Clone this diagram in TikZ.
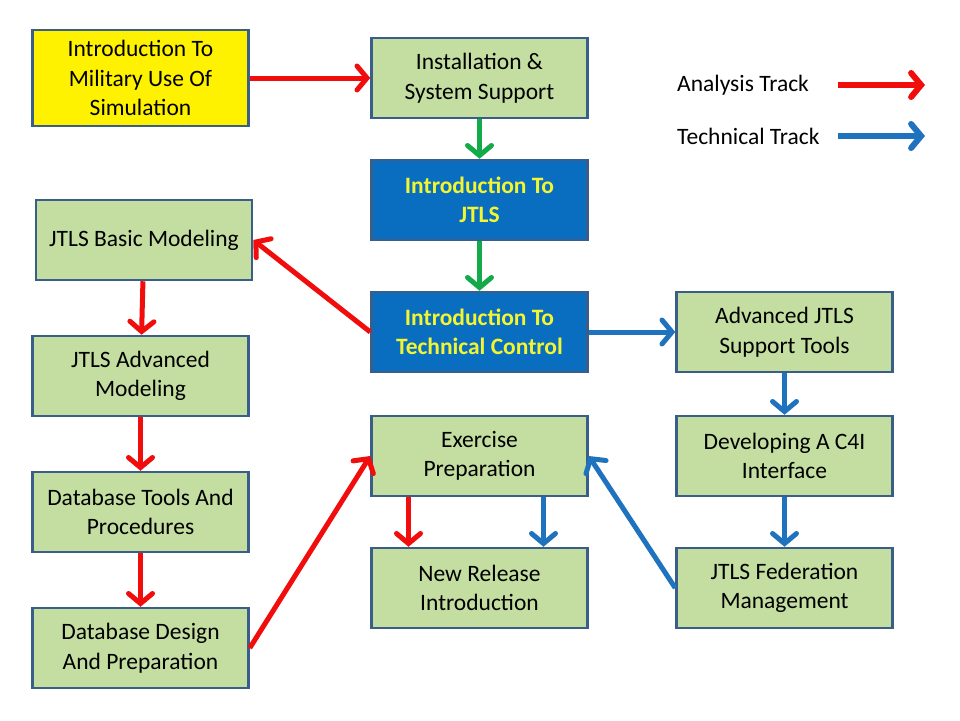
\documentclass[tikz,border=0pt]{standalone}
\usepackage{fontspec}
\setmainfont{Carlito}
\usepackage{tikz}
\usetikzlibrary{arrows.meta}
\usetikzlibrary{positioning}

\definecolor{boxgreen}{HTML}{C3DEA0}
\definecolor{boxline}{HTML}{3A5E8A}
\definecolor{boxblue}{HTML}{0A6EC0}
\definecolor{trackred}{HTML}{F20D0D}
\definecolor{trackblue}{HTML}{1F72BE}
\definecolor{trackgreen}{HTML}{13AA4A}
\definecolor{titleyellow}{HTML}{F2F530}

\begin{document}
\begin{tikzpicture}[x=1pt,y=-1pt,
        every node/.append style={font=\fontsize{23.5}{29.5}\selectfont},
        course/.style={draw=boxline,line width=2.5pt,fill=boxgreen,align=center,minimum width=216pt,minimum height=80pt,inner sep=0pt},
        core/.style={course,fill=boxblue,text=titleyellow,font=\fontsize{23.5}{29.5}\selectfont\bfseries},
        legend/.style={inner sep=0pt,anchor=west},
        red/.style={draw=trackred,line width=5pt,-{Straight Barb[length=10pt,width=24pt,line cap=round]}},
        blue/.style={red,draw=trackblue},
        green/.style={red,draw=trackgreen}
    ]
        \useasboundingbox [fill=white] (0,0) rectangle (960,720);

        \node (1) [course,fill=yellow,minimum height=96pt] at (140.5,78) {Introduction To\\Military Use Of\\Simulation};
        \node (2) [course, right=120.5pt of 1] {Installation \&\\System Support};
        \node (3) [core, below=39.5pt of 2] {Introduction To\\JTLS};
        \node (4) [core, below=49.5pt of 3] {Introduction To\\Technical Control};
        \node (9) [course, below=41.5pt of 4] {Exercise\\Preparation};
        \node (10) [course, below=49.5pt of 9] {New Release\\Introduction};

        \node (5) [course] at (144,240) {JTLS Basic Modeling};
        \node (6) [course] at (140.5,376) {JTLS Advanced\\Modeling};
        \node (7) [course, below=53.5pt of 6] {Database Tools And\\Procedures};
        \node (8) [course, below=53.5pt of 7] {Database Design\\And Preparation};

        \node (11) [course, right=86.5pt of 4] {Advanced JTLS\\Support Tools};
        \node (12) [course, below=41.5pt of 11] {Developing A C4I\\Interface};
        \node (13) [course, below=49.5pt of 12] {JTLS Federation\\Management};

        \node (a) [legend] at (677,85) {Analysis Track};
        \node (t) [legend] at (677,136) {Technical Track};
        \coordinate (as) at (838,85);
        \coordinate (ae) at (925,85);
        \coordinate (ts) at (838,136);
        \coordinate (te) at (925,136);

        \draw [red] (1) -- (2);
        \draw [green] (2) -- (3);
        \draw [green] (3) -- (4);
        \draw [red] (4.west) -- (5.east);
        \draw [red] (5) -- (6);
        \draw [red] (6) -- (7);
        \draw [red] (7) -- (8);
        \draw [red] (8.east) -- (9.west);
        \draw [red] ([xshift=-71pt]9.south) -- ([xshift=-71pt]10.north);
        \draw [blue] ([xshift=64pt]9.south) -- ([xshift=64pt]10.north);
        \draw [blue] (4) -- (11);
        \draw [blue] (11) -- (12);
        \draw [blue] (12) -- (13);
        \draw [blue] (13.west) -- (9.east);

        \draw [red,line width=6pt] (as) -- (ae);
        \draw [blue,line width=6pt] (ts) -- (te);
    \end{tikzpicture}
\end{document}
